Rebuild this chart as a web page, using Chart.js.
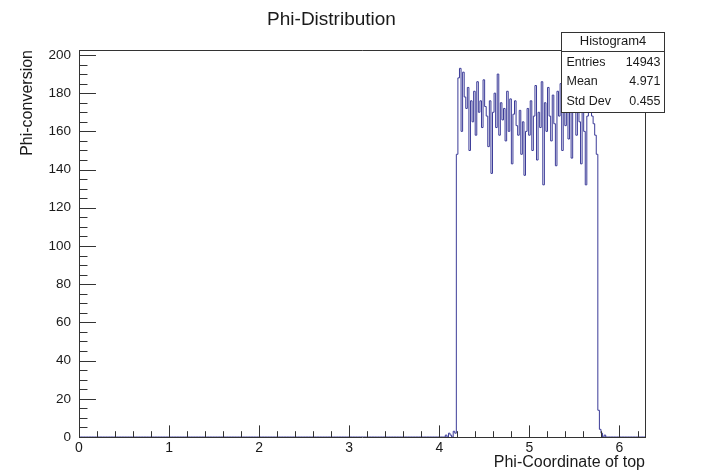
<!DOCTYPE html>
<html>
<head>
<meta charset="utf-8">
<script src="https://cdn.jsdelivr.net/npm/chart.js@4"></script>
<style>
  html, body { margin: 0; padding: 0; background: #fff; }
  canvas { display: block; }
</style>
</head>
<body>
<canvas id="histo" width="710" height="472"></canvas>
<script>
// Phi-Distribution histogram (ROOT style), 360 bins over 0..2pi

const nBins = 360
const xMin = 0
const xMax = 2 * Math.PI
const yMax = 202.6

// first non-empty bin index and the counts from there on
const firstBin = 232
const binCounts = [
    0, 1, 0, 2, 1, 0, 3, 2,
    148, 188, 193, 160, 191, 178, 172, 183, 150, 176,
    165, 181, 158, 186, 170, 176, 162, 187, 173, 168,
    152, 176, 138, 170, 180, 162, 190, 158, 175, 166,
    172, 155, 181, 160, 177, 143, 169, 176, 163, 158,
    171, 148, 165, 137, 160, 172, 158, 176, 150, 168,
    184, 145, 170, 162, 186, 132, 175, 160, 183, 168,
    155, 179, 164, 142, 181, 168, 185, 150, 172, 163,
    177, 156, 184, 146, 170, 180, 158, 175, 165, 143,
    172, 160, 132, 168, 175, 170, 168, 164, 158, 148,
    14, 4, 2, 0, 1, 0
]

const xTickLabels = [0, 1, 2, 3, 4, 5, 6]
const yTickLabels = [0, 20, 40, 60, 80, 100, 120, 140, 160, 180, 200]
const xMinorStep = 0.2
const yMinorStep = 5

const statsTitle = 'Histogram4'
const statsRows = [
    ['Entries', '14943'],
    ['Mean', '4.971'],
    ['Std Dev', '0.455']
]

// build step points: one per bin low edge, plus the closing edge
const binWidth = (xMax - xMin) / nBins
const points = []
for (let i = 0; i < nBins; i++) {
    const k = i - firstBin
    const v = (k >= 0 && k < binCounts.length) ? binCounts[k] : 0
    points.push({ x: xMin + i * binWidth, y: v })
}
points.push({ x: xMax, y: 0 })

const FONT = '"Liberation Sans", Arial, Helvetica, sans-serif'
const TXT = '#1a1a1a'
const FRAME = '#333333'

// inside ticks, top/right frame and the stats box
const rootFrame = {
    id: 'rootFrame',
    afterDraw(chart) {
        const { ctx, chartArea: a, scales } = chart
        const xs = scales.x, ys = scales.y
        ctx.save()
        ctx.strokeStyle = FRAME
        ctx.lineWidth = 1

        // frame top + right
        ctx.beginPath()
        ctx.moveTo(a.left, a.top + 0.5)
        ctx.lineTo(a.right + 0.5, a.top + 0.5)
        ctx.lineTo(a.right + 0.5, a.bottom)
        ctx.stroke()

        // y ticks pointing inward
        const yMajLen = 0.03 * (a.right - a.left)
        ctx.beginPath()
        for (let v = 0; v <= yMax + 1e-6; v += yMinorStep) {
            const py = Math.round(ys.getPixelForValue(v)) + 0.5
            const major = yTickLabels.includes(Math.round(v))
            ctx.moveTo(a.left, py)
            ctx.lineTo(a.left + (major ? yMajLen : yMajLen / 2), py)
        }
        // x ticks pointing up
        const xMajLen = 0.03 * (a.bottom - a.top)
        for (let i = 0; i * xMinorStep <= xMax + 1e-9; i++) {
            const v = i * xMinorStep
            const px = Math.round(xs.getPixelForValue(v)) + 0.5
            const major = i % 5 === 0
            ctx.moveTo(px, a.bottom)
            ctx.lineTo(px, a.bottom - (major ? xMajLen : xMajLen / 2))
        }
        ctx.stroke()

        // stats box
        const bx = 561.5, by = 32.5, bw = 103, bh = 80, hdr = 19
        ctx.fillStyle = '#ffffff'
        ctx.fillRect(bx, by, bw, bh)
        ctx.strokeStyle = FRAME
        ctx.strokeRect(bx, by, bw, bh)
        ctx.beginPath()
        ctx.moveTo(bx, by + hdr)
        ctx.lineTo(bx + bw, by + hdr)
        ctx.stroke()

        ctx.fillStyle = TXT
        ctx.textBaseline = 'middle'
        ctx.font = '13px ' + FONT
        ctx.textAlign = 'center'
        ctx.fillText(statsTitle, bx + bw / 2, by + 9)
        ctx.font = '12.5px ' + FONT
        statsRows.forEach((r, i) => {
            const ty = by + hdr + 11 + i * 19.5
            ctx.textAlign = 'left'
            ctx.fillText(r[0], bx + 5, ty)
            ctx.textAlign = 'right'
            ctx.fillText(r[1], bx + bw - 4, ty)
        })
        ctx.restore()
    }
}

new Chart(document.getElementById('histo'), {
    type: 'line',
    data: {
        datasets: [{
            label: 'Histogram4',
            data: points,
            stepped: true,
            borderColor: '#3b3b98',
            borderWidth: 1,
            pointRadius: 0,
            fill: false
        }]
    },
    options: {
        responsive: false,
        animation: false,
        layout: { padding: { left: 18, right: 65, top: 0, bottom: 0 } },
        plugins: {
            legend: { display: false },
            tooltip: { enabled: false },
            title: {
                display: true,
                text: 'Phi-Distribution',
                color: TXT,
                font: { family: FONT, size: 19, weight: 'normal' },
                padding: { top: 8, bottom: 19.2 }
            }
        },
        scales: {
            x: {
                type: 'linear',
                min: xMin,
                max: xMax,
                ticks: {
                    color: TXT,
                    padding: 3,
                    font: { family: FONT, size: 14 }
                },
                afterBuildTicks: (s) => { s.ticks = xTickLabels.map(v => ({ value: v })) },
                afterFit: (s) => { s.height = 35 },
                grid: { display: false, drawTicks: false },
                border: { display: true, color: FRAME, width: 1 },
                title: {
                    display: true,
                    text: 'Phi-Coordinate of top',
                    align: 'end',
                    color: TXT,
                    font: { family: FONT, size: 16 },
                    padding: 0
                }
            },
            y: {
                type: 'linear',
                min: 0,
                max: yMax,
                ticks: {
                    color: TXT,
                    padding: 8,
                    font: { family: FONT, size: 13.5 }
                },
                afterBuildTicks: (s) => { s.ticks = yTickLabels.map(v => ({ value: v })) },
                afterFit: (s) => { s.width = 61 },
                grid: { display: false, drawTicks: false },
                border: { display: true, color: FRAME, width: 1 },
                title: {
                    display: true,
                    text: 'Phi-conversion',
                    align: 'end',
                    color: TXT,
                    font: { family: FONT, size: 16 },
                    padding: 0
                }
            }
        }
    },
    plugins: [rootFrame]
})
</script>
</body>
</html>
